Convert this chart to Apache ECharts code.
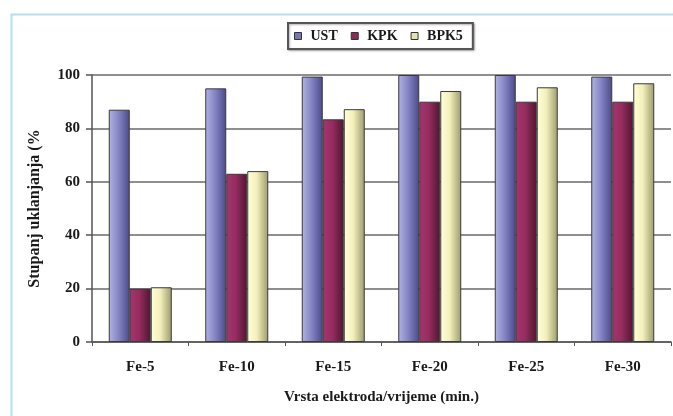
<!DOCTYPE html>
<html>
<head>
<meta charset="utf-8">
<script src="https://cdn.jsdelivr.net/npm/echarts@6/dist/echarts.min.js"></script>
<style>
html,body{margin:0;padding:0;background:#fff;}
#c{width:673px;height:416px;}
</style>
</head>
<body>
<div id="c"></div>
<script>
var categories = ['Fe-5', 'Fe-10', 'Fe-15', 'Fe-20', 'Fe-25', 'Fe-30'];
var seriesNames = ['UST', 'KPK', 'BPK5'];
var ust = [87, 95, 99.4, 100, 100, 99.4];
var kpk = [20, 63, 83.4, 90, 90, 90];
var bpk5 = [20.5, 64, 87.2, 94, 95.4, 96.9];
var yTicks = [0, 20, 40, 60, 80, 100];
var xTitle = 'Vrsta elektroda/vrijeme (min.)';
var yTitle = 'Stupanj uklanjanja (%';

var font = '"Liberation Serif", "Times New Roman", serif';
function grad(light, mid, dark) {
  return new echarts.graphic.LinearGradient(0, 0, 1, 0, [
    {offset: 0, color: light}, {offset: 0.45, color: mid}, {offset: 1, color: dark}
  ]);
}
var styles = [
  {color: grad('#b4b3e2', '#8686c6', '#4a4a8a'), flat: '#7676b8'},
  {color: grad('#a8336e', '#952d60', '#4f1530'), flat: '#8c2a5a'},
  {color: grad('#ffffd8', '#f4f0bc', '#9c9a6c'), flat: '#e6e2b0'}
];
var values = [ust, kpk, bpk5];

var chart = echarts.init(document.getElementById('c'), null, {renderer: 'canvas'});
chart.setOption({
  backgroundColor: '#fff',
  animation: false,
  graphic: [{
    type: 'rect', left: 9, top: 12, shape: {x: 0, y: 0, width: 700, height: 450},
    style: {fill: 'none', stroke: '#b4e0e8', lineWidth: 2}, z: -1
  }],
  legend: {
    left: 288, top: 23,
    padding: [6, 10, 6, 6],
    borderColor: '#555', borderWidth: 2,
    shadowColor: 'rgba(0,0,0,0.3)', shadowBlur: 2, shadowOffsetX: 1, shadowOffsetY: 1,
    backgroundColor: '#fff',
    itemWidth: 7, itemHeight: 7, itemGap: 13,
    icon: 'rect',
    textStyle: {fontFamily: font, fontWeight: 'bold', fontSize: 14, color: '#1a1a1a', padding: [0, 0, 0, 4]},
    data: seriesNames.map(function (n, i) {
      return {name: n, itemStyle: {color: styles[i].flat, borderColor: '#333', borderWidth: 1}};
    })
  },
  grid: {left: 92, right: 2, top: 75, bottom: 74, containLabel: false},
  xAxis: {
    type: 'category',
    data: categories,
    boundaryGap: true,
    name: xTitle,
    nameLocation: 'middle',
    nameGap: 48,
    nameTextStyle: {fontFamily: font, fontWeight: 'bold', fontSize: 15, color: '#1a1a1a'},
    axisLine: {lineStyle: {color: '#555', width: 1.5}},
    axisTick: {show: true, length: 4, lineStyle: {color: '#555'}},
    axisLabel: {fontFamily: font, fontWeight: 'bold', fontSize: 15, color: '#1a1a1a', margin: 18}
  },
  yAxis: {
    type: 'value',
    min: yTicks[0], max: yTicks[yTicks.length - 1], interval: 20,
    name: yTitle,
    nameLocation: 'middle',
    nameGap: 49,
    nameRotate: 90,
    nameTextStyle: {fontFamily: font, fontWeight: 'bold', fontSize: 16, color: '#1a1a1a'},
    axisLine: {show: true, lineStyle: {color: '#555', width: 1.5}},
    axisTick: {show: true, length: 6, lineStyle: {color: '#555', width: 1.5}},
    axisLabel: {fontFamily: font, fontWeight: 'bold', fontSize: 15, color: '#1a1a1a', margin: 12},
    splitLine: {show: true, lineStyle: {color: '#6a6a6a', width: 1.5}}
  },
  series: seriesNames.map(function (n, i) {
    return {
      name: n, type: 'bar', data: values[i],
      barWidth: 21, barGap: '0%',
      itemStyle: {color: styles[i].color, borderColor: '#3a3a3a', borderWidth: 1}
    };
  })
});
</script>
</body>
</html>
